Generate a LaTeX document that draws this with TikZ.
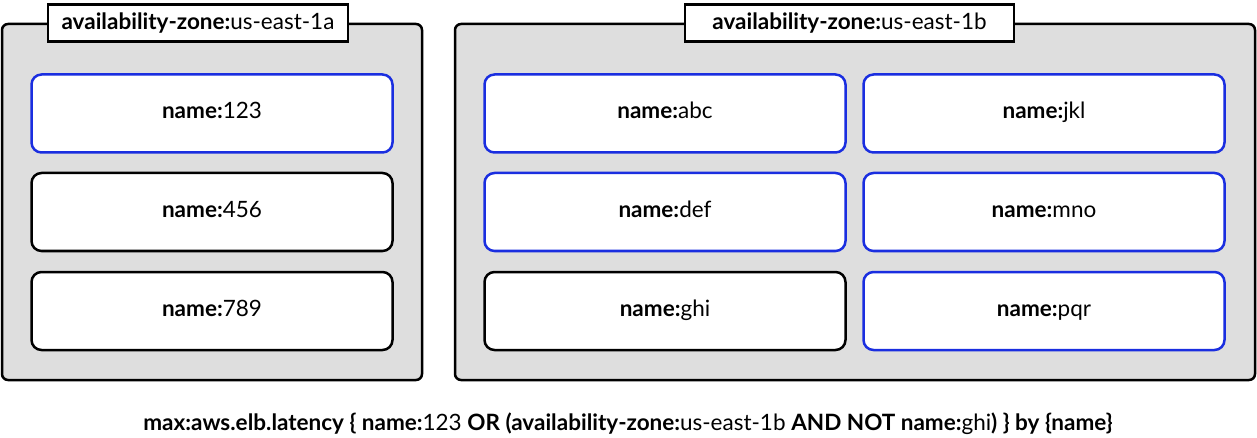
\documentclass[tikz,border=0pt]{standalone}
\usepackage{fontspec}
\setmainfont{Lato}
\begin{document}
\begin{tikzpicture}[x=1pt,y=-1pt,
  zone/.style={draw=black,line width=2.5pt,fill=zonegray,rounded corners=6pt},
  ttl/.style={draw=black,line width=2.5pt,fill=white,inner sep=0pt,font=\fontsize{22.5}{26}\selectfont},
  hst/.style={draw=black,line width=2.5pt,fill=white,rounded corners=10pt,minimum width=361pt,minimum height=78pt,text height=16pt,text depth=5pt,font=\fontsize{22.5}{26}\selectfont},
  sel/.style={hst,draw=selblue}]
\definecolor{zonegray}{HTML}{DEDEDE}
\definecolor{selblue}{HTML}{1A2EE0}
\useasboundingbox (0,0) rectangle (1257,438);
\draw[zone] (2,24) rectangle (422,380);
\draw[zone] (455,24) rectangle (1255,380);
\node[ttl,minimum width=300pt,minimum height=37pt] (za) at (198,23) {\textbf{availability-zone:}us-east-1a};
\node[ttl,minimum width=329pt,minimum height=37pt] (zb) at (849.5,23) {\textbf{availability-zone:}us-east-1b};
\node[sel] (n123) at (212,113.5) {\textbf{name:}123};
\node[hst] (n456) at (212,212) {\textbf{name:}456};
\node[hst] (n789) at (212,311) {\textbf{name:}789};
\node[sel] (abc) at (665,113.5) {\textbf{name:}abc};
\node[sel] (def) at (665,212) {\textbf{name:}def};
\node[hst] (ghi) at (665,311) {\textbf{name:}ghi};
\node[sel] (jkl) at (1044,113.5) {\textbf{name:}jkl};
\node[sel] (mno) at (1044,212) {\textbf{name:}mno};
\node[sel] (pqr) at (1044,311) {\textbf{name:}pqr};
\node[font=\fontsize{22.5}{26}\selectfont] (q) at (628,424) {\textbf{max:aws.elb.latency \{ name:}123 \textbf{OR (availability-zone:}us-east-1b \textbf{AND NOT name:}ghi\textbf{) \} by \{name\}}};
\end{tikzpicture}
\end{document}
